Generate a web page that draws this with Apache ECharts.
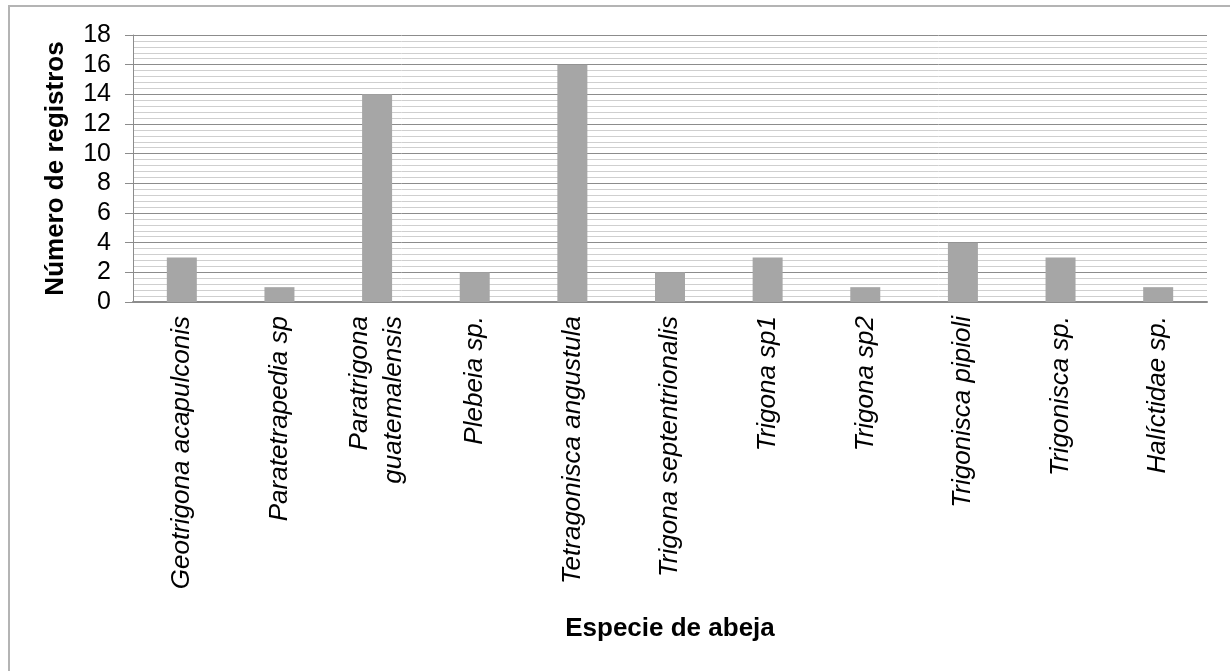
<!DOCTYPE html>
<html>
<head>
<meta charset="utf-8">
<script src="https://cdn.jsdelivr.net/npm/echarts@6/dist/echarts.min.js"></script>
<style>
html,body{margin:0;padding:0;background:#fff;}
#chart{width:1230px;height:671px;}
</style>
</head>
<body>
<div id="chart"></div>
<script>
const categories = ['Geotrigona acapulconis','Paratetrapedia sp','Paratrigona\nguatemalensis','Plebeia sp.','Tetragonisca angustula','Trigona septentrionalis','Trigona sp1','Trigona sp2','Trigonisca pipioli','Trigonisca sp.','Halíctidae sp.'];
const values = [3,1,14,2,16,2,3,1,4,3,1];
const xTitle = 'Especie de abeja';
const yTitle = 'Número de registros';

const font = "'Liberation Sans', Arial, sans-serif";
const chart = echarts.init(document.getElementById('chart'), null, {renderer:'canvas'});
chart.setOption({
  animation:false,
  backgroundColor:'#fff',
  graphic:[{type:'rect', shape:{x:9,y:6,width:1400,height:900}, style:{fill:'none', stroke:'#b4b4b4', lineWidth:2}, silent:true}],
  grid:{left:133, right:23, top:35, bottom:369, containLabel:false},
  xAxis:{
    type:'category', data:categories,
    axisLine:{show:true, lineStyle:{color:'#8c8c8c', width:2}},
    axisTick:{show:false},
    axisLabel:{rotate:90, margin:14, color:'#000', fontFamily:font, fontSize:26, fontStyle:'italic', lineHeight:34, interval:0},
    name:xTitle, nameLocation:'middle', nameGap:314,
    nameTextStyle:{fontFamily:font, fontSize:26, fontWeight:'bold', color:'#000'}
  },
  yAxis:{
    type:'value', min:0, max:18, interval:2,
    axisLine:{show:true, lineStyle:{color:'#8c8c8c', width:1}},
    axisTick:{show:true, inside:false, length:8, lineStyle:{color:'#8c8c8c'}},
    axisLabel:{margin:22, color:'#000', fontFamily:font, fontSize:25},
    splitLine:{show:true, lineStyle:{color:'#8c8c8c', width:1}},
    minorTick:{show:false, splitNumber:5},
    minorSplitLine:{show:true, lineStyle:{color:'#cfcfcf', width:1}},
    name:yTitle, nameLocation:'middle', nameGap:64,
    nameTextStyle:{fontFamily:font, fontSize:26, fontWeight:'bold', color:'#000'}
  },
  series:[{type:'bar', data:values, barWidth:30, itemStyle:{color:'#a6a6a6'}}]
});
</script>
</body>
</html>
